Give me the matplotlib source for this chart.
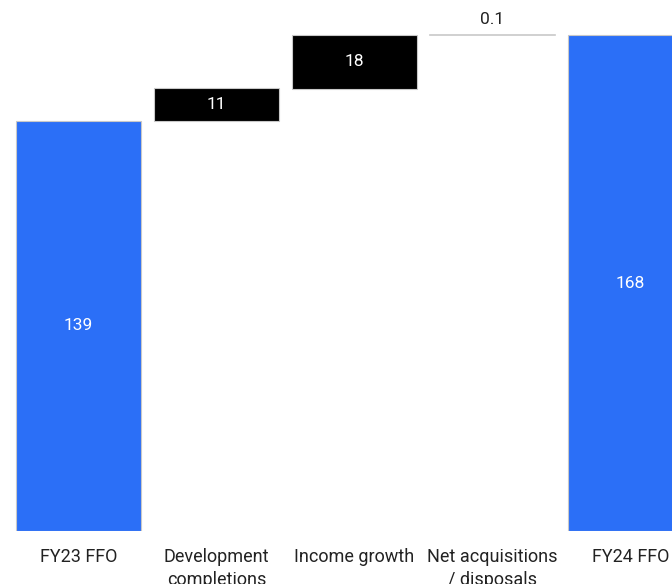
import numpy as np
import matplotlib.pyplot as plt

plt.rcParams['font.family'] = ['Roboto', 'DejaVu Sans']

# Data
categories = ['FY23 FFO', 'Development\ncompletions', 'Income growth',
              'Net acquisitions\n/ disposals', 'FY24 FFO']
values = [139, 11, 18, 0.1, 168]
is_total = [True, False, False, False, True]
labels = ['139', '11', '18', '0.1', '168']

blue = '#2B6FF7'
edge = '#C8C8C8'

fig = plt.figure(figsize=(6.72, 5.84), dpi=100)
ax = fig.add_axes([0, 53 / 584, 1, 531 / 584])

x = np.arange(len(categories))
bottoms = []
running = 0
for v, tot in zip(values, is_total):
    if tot:
        bottoms.append(0)
        running = v
    else:
        bottoms.append(running)
        running += v

for i, (v, b, tot, lab) in enumerate(zip(values, bottoms, is_total, labels)):
    if tot:
        ax.bar(x[i], v, bottom=b, width=0.906, color=blue, edgecolor=edge, linewidth=0.8)
        ax.text(x[i], b + v / 2, lab, ha='center', va='center', color='white', fontsize=12.5)
    elif v < 1:
        ax.plot([x[i] - 0.453, x[i] + 0.453], [b + v, b + v], color=edge, lw=1.2)
        ax.text(x[i], b + v + 5.2, lab, ha='center', va='center', color='#222222', fontsize=12.5)
    else:
        ax.bar(x[i], v, bottom=b, width=0.906, color='black', edgecolor=edge, linewidth=0.8)
        ax.text(x[i], b + v / 2, lab, ha='center', va='center', color='white', fontsize=12.5)

ax.set_xlim((0 - 78.5) / 138, (672 - 78.5) / 138)
ax.set_ylim(0, 531 / 2.95)
ax.set_xticks(x)
ax.set_xticklabels(categories, fontsize=13, color='#222222', linespacing=1.3)
ax.tick_params(axis='x', length=0, pad=12.5)
ax.set_yticks([])
for s in ax.spines.values():
    s.set_visible(False)

fig.savefig('out.png', dpi=100)
